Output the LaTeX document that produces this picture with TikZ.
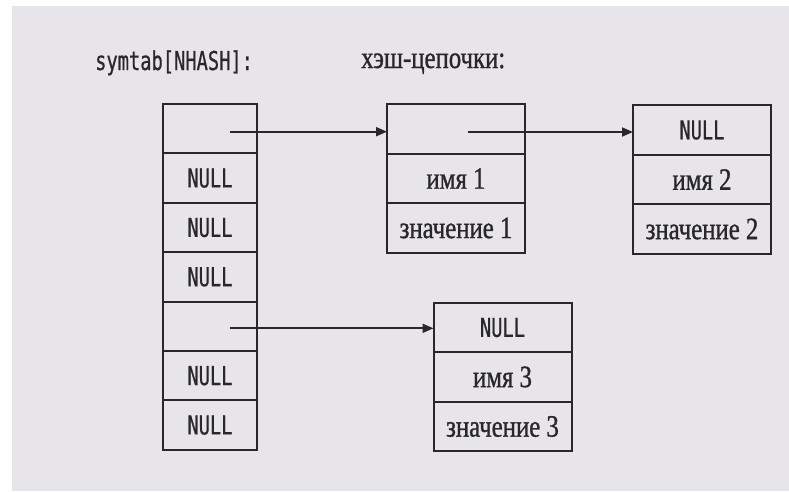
\documentclass[tikz,border=0pt]{standalone}
\usepackage{fontspec}
\setmainfont{Liberation Serif}[FakeStretch=0.8, FakeBold=1]
\newfontfamily\monoface[FakeStretch=0.72, FakeBold=0.6]{DejaVu Sans Mono}
\usetikzlibrary{arrows.meta, positioning, calc}
\definecolor{paperbg}{RGB}{231,228,234}
\definecolor{inkgray}{RGB}{40,40,42}
\newcommand{\cellsize}{\fontsize{31}{36}\selectfont}
\newcommand{\monosize}{\fontsize{26}{30}\selectfont}
\tikzset{
  slot/.style={
    rectangle, draw=inkgray, line width=2pt,
    minimum width=94pt, minimum height=49.4pt,
    inner sep=0pt, outer sep=0pt,
    font=\monoface\monosize, text=inkgray
  },
  entry/.style={
    rectangle, draw=inkgray, line width=2pt,
    minimum width=138pt, minimum height=49.5pt,
    inner sep=0pt, outer sep=0pt,
    font=\cellsize, text=inkgray
  },
  heading/.style={inner sep=0pt, text=inkgray, anchor=base west},
  pointer/.style={-{Triangle[length=11pt,width=9pt]}, line width=1.8pt, color=inkgray}
}

\begin{document}
\begin{tikzpicture}[x=1pt, y=-1pt]

\useasboundingbox (0,0) rectangle (789,491);
\fill[paperbg] (12,6) rectangle (789,491);

% ═══════════════════════════════════════════════════════════════════
% HEADINGS
% ═══════════════════════════════════════════════════════════════════

\node[heading, font=\monoface\monosize] (tablehead) at (95,70) {symtab[NHASH]:};
\node[heading, font=\cellsize]          (chainhead) at (361,68) {хэш-цепочки:};

% ═══════════════════════════════════════════════════════════════════
% HASH TABLE
% ═══════════════════════════════════════════════════════════════════

\node[slot] (slot1) at (210,128.7) {};
\node[slot, below=0pt of slot1] (slot2) {NULL};
\node[slot, below=0pt of slot2] (slot3) {NULL};
\node[slot, below=0pt of slot3] (slot4) {NULL};
\node[slot, below=0pt of slot4] (slot5) {};
\node[slot, below=0pt of slot5] (slot6) {NULL};
\node[slot, below=0pt of slot6] (slot7) {NULL};

% ═══════════════════════════════════════════════════════════════════
% CHAIN ELEMENTS
% ═══════════════════════════════════════════════════════════════════

% ── element 1 ─────────────────────────────────────────────────────
\node[entry] (next1) at (456,129) {};
\node[entry, below=0pt of next1] (name1) {имя 1};
\node[entry, below=0pt of name1] (val1)  {значение 1};

% ── element 2 ─────────────────────────────────────────────────────
\node[entry, font=\monoface\monosize] (next2) at (702,130) {NULL};
\node[entry, below=0pt of next2] (name2) {имя 2};
\node[entry, below=0pt of name2] (val2)  {значение 2};

% ── element 3 ─────────────────────────────────────────────────────
\node[entry, font=\monoface\monosize] (next3) at (502.5,327.5) {NULL};
\node[entry, below=0pt of next3] (name3) {имя 3};
\node[entry, below=0pt of name3] (val3)  {значение 3};

% ═══════════════════════════════════════════════════════════════════
% POINTERS
% ═══════════════════════════════════════════════════════════════════

\coordinate (from1) at ($(slot1.center)+(20,3)$);
\coordinate (from2) at ($(next1.center)+(12,3)$);
\coordinate (from5) at ($(slot5.center)+(20,2)$);

\draw[pointer] (from1) -- (from1 -| next1.west);
\draw[pointer] (from2) -- (from2 -| next2.west);
\draw[pointer] (from5) -- (from5 -| next3.west);

\end{tikzpicture}
\end{document}
